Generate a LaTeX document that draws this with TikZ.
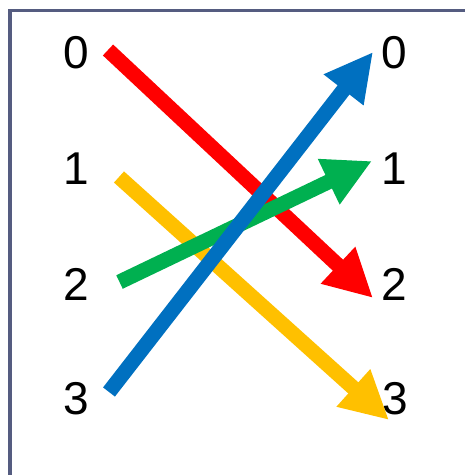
\documentclass[tikz,border=0pt]{standalone}
\usepackage{fontspec}
\setmainfont{Liberation Sans}
\usetikzlibrary{arrows.meta}
\definecolor{frm}{HTML}{555C80}
\definecolor{cred}{HTML}{FF0000}
\definecolor{cyel}{HTML}{FFC000}
\definecolor{cgrn}{HTML}{00B050}
\definecolor{cblu}{HTML}{0070C0}
\begin{document}
\begin{tikzpicture}[x=1pt,y=1pt,
  lbl/.style={font=\fontsize{46}{46}\selectfont, inner sep=0pt, anchor=center},
  arr/.style={line width=15pt, -{Triangle[length=48pt,width=47pt]}}]
\useasboundingbox (0,0) rectangle (465,475);
\draw[frm, line width=3.5pt] (10,-5) -- (10,464.5) -- (470,464.5);
% labels
\node[lbl] (L0) at (76,422) {0};
\node[lbl] (L1) at (76,306.5) {1};
\node[lbl] (L2) at (76,191) {2};
\node[lbl] (L3) at (76,76) {3};
\node[lbl] (R0) at (394,422) {0};
\node[lbl] (R1) at (394,306.5) {1};
\node[lbl] (R2) at (394,191) {2};
\node[lbl] (R3) at (395,76) {3};
% arrow endpoints
\coordinate (rs) at (108,425);
\coordinate (re) at (373,177);
\coordinate (ys) at (119,298);
\coordinate (ye) at (389,55);
\coordinate (gs) at (119.5,193);
\coordinate (ge) at (372,314);
\coordinate (bs) at (109,83);
\coordinate (be) at (373,423);
\draw[arr, cred] (rs) -- (re);
\draw[arr, cyel] (ys) -- (ye);
\draw[arr, cgrn] (gs) -- (ge);
\draw[arr, cblu] (bs) -- (be);
\end{tikzpicture}
\end{document}
